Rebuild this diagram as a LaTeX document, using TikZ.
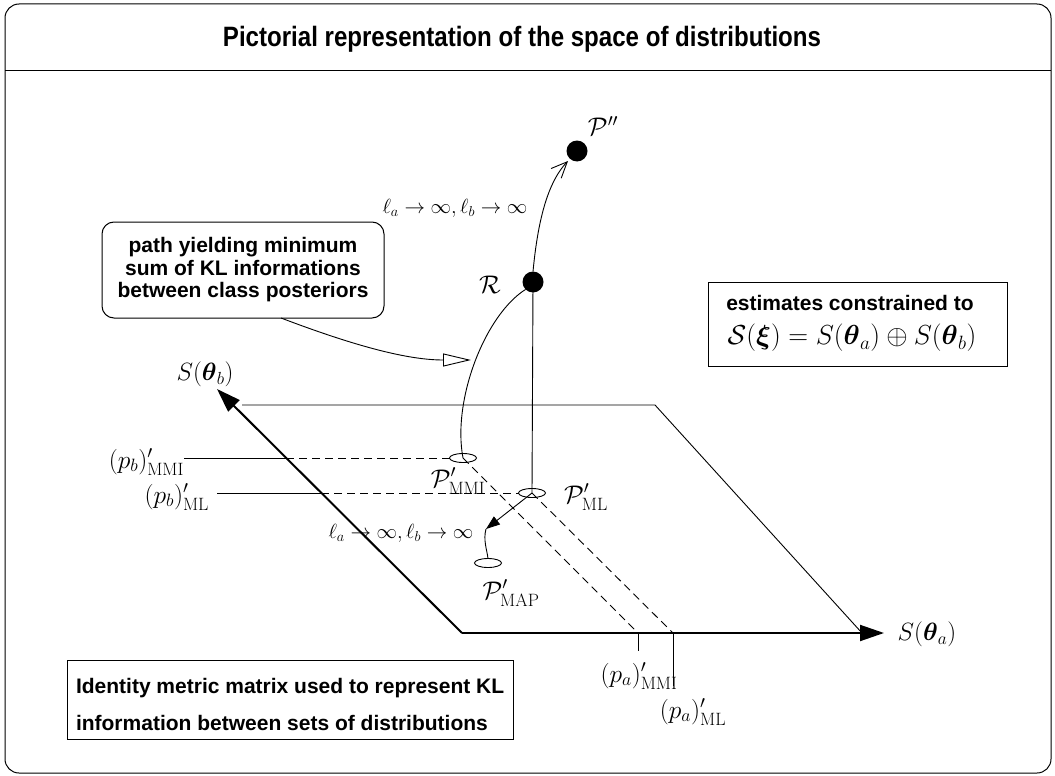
\RequirePackage{fix-cm}
\documentclass[tikz,border=0pt]{standalone}
\usepackage{amsmath}
\usepackage[no-math]{fontspec}
\setmainfont{Liberation Sans}
\newfontfamily\narrowsans[FakeStretch=0.86]{Liberation Sans}
\usetikzlibrary{arrows.meta,shapes.geometric}
\begin{document}
\begin{tikzpicture}[x=1pt,y=-1pt,
  every node/.style={inner sep=0pt, outer sep=0pt},
  thinl/.style={line width=0.9pt},
  axisl/.style={line width=2pt, -{Triangle[length=24pt,width=16pt]}},
  dsh/.style={line width=0.9pt, dash pattern=on 8pt off 5pt},
  ell/.style={ellipse, draw, line width=0.9pt, minimum width=27pt, minimum height=9pt, inner sep=0pt},
  dot/.style={circle, fill, minimum size=21pt, inner sep=0pt},
  txt/.style={font=\bfseries\fontsize{21}{22.5}\selectfont, align=center},
  boxl/.style={draw, line width=1pt},
  mlab/.style={font=\fontsize{25.5}{29}\selectfont},
  maxis/.style={font=\fontsize{25}{29}\selectfont},
  mbig/.style={font=\fontsize{27.5}{31}\selectfont},
  msmall/.style={font=\fontsize{20.5}{24}\selectfont},
]
\useasboundingbox (0,0) rectangle (1055,776);
% frame and title
\draw[line width=1pt, rounded corners=14pt] (5,4) rectangle (1051,773);
\draw[line width=1pt] (5,71) -- (1051,71);
\node[font=\narrowsans\bfseries\fontsize{28}{32}\selectfont] (title) at (522,39) {Pictorial representation of the space of distributions};

% text boxes
\node[txt, boxl, rounded corners=12pt, minimum width=282pt, minimum height=96pt] (pathbox) at (243,270) {path yielding minimum\\sum of KL informations\\between class posteriors};
\node[boxl, minimum width=299pt, minimum height=84pt] (estbox) at (857.5,324) {};
\node[txt] (est1) at (850,303) {estimates constrained to};
\node[mbig] (est2) at (852,338) {$\mathcal{S}(\boldsymbol{\xi}) = S(\boldsymbol{\theta}_a) \oplus S(\boldsymbol{\theta}_b)$};
\node[boxl, minimum width=446pt, minimum height=79pt, anchor=north west] (idbox) at (67,660) {};
\node[txt, anchor=west] (id1) at (76,688) {Identity metric matrix used to represent KL};
\node[txt, anchor=west] (id2) at (76,723) {information between sets of distributions};

% plane
\coordinate (O) at (462,633);
\coordinate (Atip) at (884,633);
\coordinate (Btip) at (217,389);
\coordinate (TL) at (242,405);
\coordinate (TR) at (655,405);
\coordinate (BR) at (862,633);
\draw[thinl] (TL) -- (TR) -- (BR);
\draw[axisl] (O) -- (Atip);
\draw[axisl] (O) -- (Btip);
\node[maxis] (Sa) at (927,634) {$S(\boldsymbol{\theta}_a)$};
\node[maxis] (Sb) at (205,374) {$S(\boldsymbol{\theta}_b)$};

% points
\node[dot] (Pdd) at (577,151) {};
\node[mlab] (Pddl) at (603,126) {$\mathcal{P}''$};
\node[dot] (R) at (533,282) {};
\node[mlab] (Rl) at (490,285) {$\mathcal{R}$};
\node[ell] (mmi) at (463,458) {};
\node[ell] (ml) at (532,493) {};
\node[ell] (map) at (488,563) {};
\node[mlab] (mmil) at (458,481) {$\mathcal{P}'_{\mathrm{MMI}}$};
\node[mlab] (mll) at (586,497) {$\mathcal{P}'_{\mathrm{ML}}$};
\node[mlab] (mapl) at (511,593) {$\mathcal{P}'_{\mathrm{MAP}}$};

% curves
\draw[thinl, -{Straight Barb[length=16pt,width=14pt]}] (R.north) .. controls (537,230) and (545,185) .. (568,161);
\draw[thinl] (R.south west) .. controls (485,315) and (452,400) .. (mmi.center);
\draw[thinl] (R.center) -- (ml.center);
\draw[thinl, -{Triangle[open,length=28pt,width=13pt,fill=white]}] (pathbox.south) ++(38,0) coordinate (pb0) .. controls (360,348) and (410,360) .. (471,360);
\coordinate (mid) at (486,529);
\draw[thinl, -{Triangle[length=14pt,width=10pt]}] (ml.center) -- (mid);
\draw[thinl] (mid) .. controls (483,540) and (487,550) .. (map.north);
\node[msmall] (ell1) at (455,208) {$\ell_a \to \infty, \ell_b \to \infty$};
\node[msmall] (ell2) at (401,533) {$\ell_a \to \infty, \ell_b \to \infty$};

% projections onto S(theta_b)
\node[mlab, anchor=east] (pbmmi) at (184,462) {$(p_b)'_{\mathrm{MMI}}$};
\node[mlab, anchor=east] (pbml) at (209,497) {$(p_b)'_{\mathrm{ML}}$};
\coordinate (xmmi) at (286,458);
\coordinate (xml) at (321,493);
\draw[thinl] (pbmmi.east |- mmi) -- (xmmi);
\draw[dsh] (xmmi) -- (mmi.west);
\draw[thinl] (pbml.east |- ml) ++(8,0) -- (xml);
\draw[dsh] (xml) -- (ml.west);

% projections onto S(theta_a)
\coordinate (amm) at (638,633);
\coordinate (aml) at (673,633);
\draw[dsh] (mmi.center) -- (amm);
\draw[dsh] (ml.center) -- (aml);
\node[mlab] (pammi) at (639,676) {$(p_a)'_{\mathrm{MMI}}$};
\node[mlab] (paml) at (693,712) {$(p_a)'_{\mathrm{ML}}$};
\draw[thinl] (amm) -- (638,651);
\draw[thinl] (aml) -- (673,686);
\end{tikzpicture}
\end{document}
